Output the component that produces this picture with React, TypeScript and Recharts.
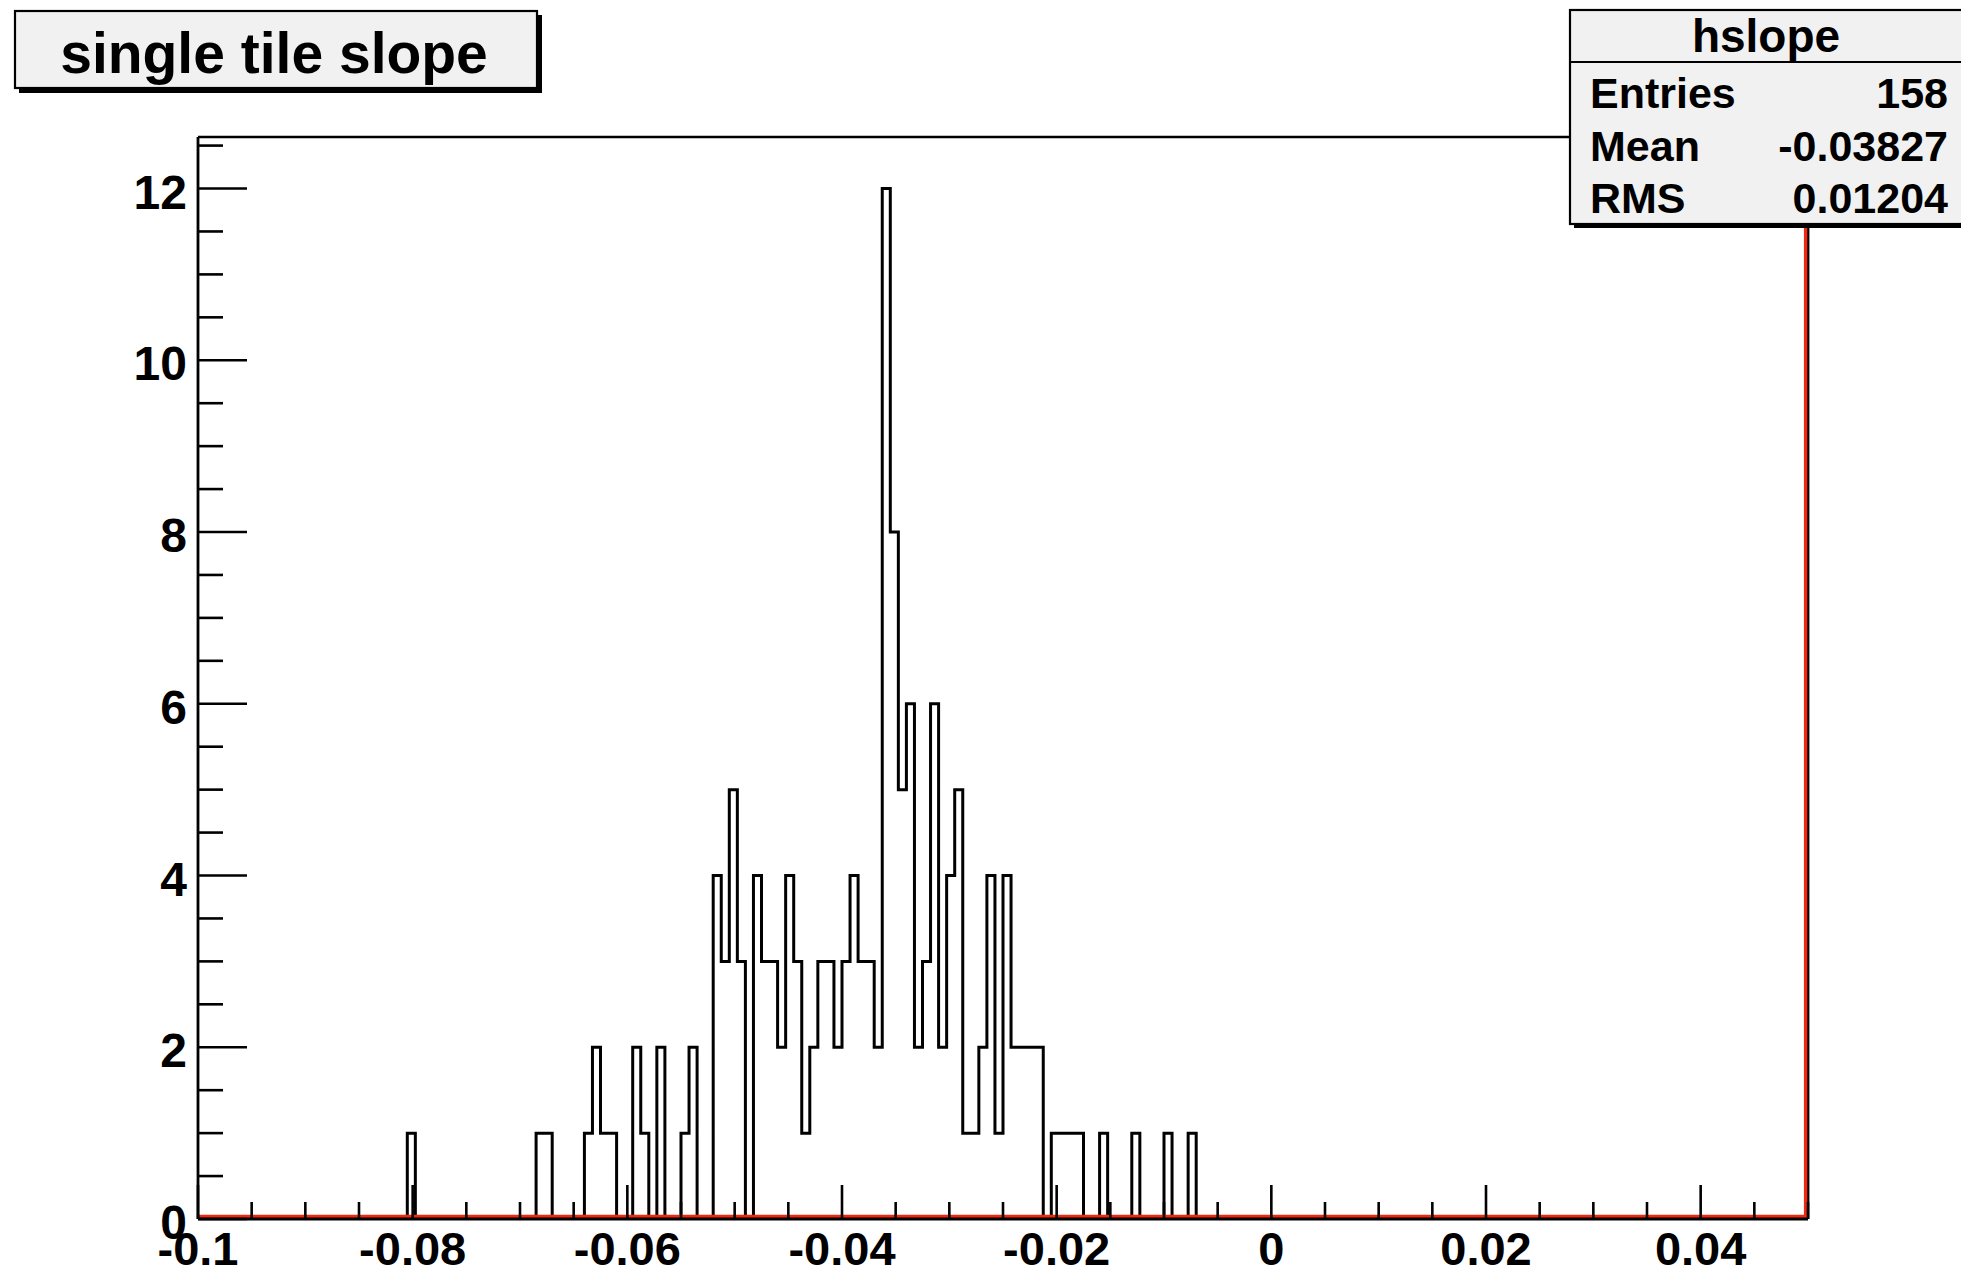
import { LineChart, Line, XAxis, YAxis, ReferenceLine } from 'recharts'

// hslope: 200 bins over [-0.1, 0.05]
const xLow = -0.1
const xHigh = 0.05
const nBins = 200
const yTop = 12.6

// filled bins (index counted from the low edge) and their entries
const binIndex = [
  26, 42, 43, 48, 49, 50, 51, 54, 55, 57, 60, 61, 64, 65, 66, 67,
  69, 70, 71, 72, 73, 74, 75, 76, 77, 78, 79, 80, 81, 82, 83, 84,
  85, 86, 87, 88, 89, 90, 91, 92, 93, 94, 95, 96, 97, 98, 99, 100,
  101, 102, 103, 104, 106, 107, 108, 109, 112, 116, 120, 123,
]
const binCount = [
  1, 1, 1, 1, 2, 1, 1, 2, 1, 2, 1, 2, 4, 3, 5, 3,
  4, 3, 3, 2, 4, 3, 1, 2, 3, 3, 2, 3, 4, 3, 3, 2,
  12, 8, 5, 6, 2, 3, 6, 2, 4, 5, 1, 1, 2, 4, 1, 4,
  2, 2, 2, 2, 1, 1, 1, 1, 1, 1, 1, 1,
]

const xLabels = [-0.1, -0.08, -0.06, -0.04, -0.02, 0, 0.02, 0.04]
const xLabelText = ['-0.1', '-0.08', '-0.06', '-0.04', '-0.02', '0', '0.02', '0.04']
const yLabels = [0, 2, 4, 6, 8, 10, 12]

const statTitle = 'hslope'
const statNames = ['Entries', 'Mean', 'RMS']
const statValues = ['158', '-0.03827', '0.01204']
const title = 'single tile slope'

const binWidth = (xHigh - xLow) / nBins
const counts: number[] = new Array(nBins).fill(0)
binIndex.forEach((b, i) => {
  counts[b] = binCount[i]
})
const histData = counts.map((n, i) => ({ x: xLow + i * binWidth, n }))
histData.push({ x: xHigh, n: 0 })

// minor ticks: every 0.005 on x, every 0.5 on y
const xTicks = Array.from({ length: 31 }, (_, k) => Math.round((xLow + k * 0.005) * 1000) / 1000)
const yTicks = Array.from({ length: 26 }, (_, k) => k * 0.5)

const FONT = '"Liberation Sans", Arial, Helvetica, sans-serif'
const RED = '#f0280f'

function XTick(props: any) {
  const { x, y, payload } = props
  const idx = xLabels.findIndex((l) => Math.abs(l - payload.value) < 1e-9)
  const len = idx >= 0 ? 34 : 17
  return (
    <g>
      <line x1={x} x2={x} y1={y} y2={y - len} stroke="#000" strokeWidth={2.6} />
      {idx >= 0 && (
        <text x={x} y={y + 46} textAnchor="middle" fontFamily={FONT} fontWeight="bold" fontSize={47} fill="#000">
          {xLabelText[idx]}
        </text>
      )}
    </g>
  )
}

function YTick(props: any) {
  const { x, y, payload } = props
  const major = yLabels.includes(payload.value)
  const len = major ? 49 : 25
  return (
    <g>
      <line x1={x} x2={x + len} y1={y} y2={y} stroke="#000" strokeWidth={2.6} />
      {major && (
        <text x={x - 11} y={y + 20} textAnchor="end" fontFamily={FONT} fontWeight="bold" fontSize={48} fill="#000">
          {payload.value}
        </text>
      )}
    </g>
  )
}

// red frame edge sits just inside the black axis line
function RedBottom(p: any) {
  return <line x1={p.x1} x2={p.x2} y1={p.y1 - 2.6} y2={p.y2 - 2.6} stroke={RED} strokeWidth={3.4} />
}
function RedRight(p: any) {
  return <line x1={p.x1 - 2.4} x2={p.x2 - 2.4} y1={p.y1} y2={p.y2 + 2.6} stroke={RED} strokeWidth={3.4} />
}

function Overlay() {
  return (
    <svg width={1961} height={1271} style={{ position: 'absolute', left: 0, top: 0, pointerEvents: 'none' }}>
      {/* title box */}
      <rect x={19} y={15} width={523} height={78} fill="#000" />
      <rect x={15} y={11} width={522} height={77} fill="#f1f1f1" stroke="#000" strokeWidth={2.2} />
      <text x={274} y={73} textAnchor="middle" fontFamily={FONT} fontWeight="bold" fontSize={57} fill="#000">
        {title}
      </text>

      {/* stats box */}
      <rect x={1574} y={13} width={400} height={215} fill="#000" />
      <rect x={1570} y={10} width={400} height={214} fill="#f1f1f1" stroke="#000" strokeWidth={2.2} />
      <line x1={1570} x2={1970} y1={62} y2={62} stroke="#000" strokeWidth={2.2} />
      <text x={1766} y={52} textAnchor="middle" fontFamily={FONT} fontWeight="bold" fontSize={46} fill="#000">
        {statTitle}
      </text>
      {statNames.map((name, i) => (
        <g key={name}>
          <text x={1590} y={108 + i * 52.5} fontFamily={FONT} fontWeight="bold" fontSize={43} fill="#000">
            {name}
          </text>
          <text x={1948} y={108 + i * 52.5} textAnchor="end" fontFamily={FONT} fontWeight="bold" fontSize={43} fill="#000">
            {statValues[i]}
          </text>
        </g>
      ))}
    </svg>
  )
}

export default function App() {
  return (
    <div style={{ position: 'absolute', left: 0, top: 0, width: 1961, height: 1271, overflow: 'hidden', background: '#fff' }}>
      <LineChart width={1961} height={1271} data={histData} margin={{ top: 137, right: 153, bottom: 0, left: 138 }}>
        <XAxis
          type="number"
          dataKey="x"
          domain={[xLow, xHigh]}
          allowDataOverflow
          ticks={xTicks}
          interval={0}
          height={52}
          tickSize={0}
          tickMargin={0}
          tickLine={false}
          axisLine={{ stroke: '#000', strokeWidth: 2.8 }}
          tick={(p: any) => <XTick {...p} />}
        />
        <YAxis
          type="number"
          domain={[0, yTop]}
          allowDataOverflow
          ticks={yTicks}
          interval={0}
          width={60}
          tickSize={0}
          tickMargin={0}
          tickLine={false}
          axisLine={{ stroke: '#000', strokeWidth: 2.8 }}
          tick={(p: any) => <YTick {...p} />}
        />
        <Line
          type="stepAfter"
          dataKey="n"
          stroke="#000"
          strokeWidth={3}
          strokeLinejoin="miter"
          dot={false}
          activeDot={false}
          isAnimationActive={false}
        />
        <ReferenceLine y={yTop} stroke="#000" strokeWidth={2.6} />
        <ReferenceLine x={xHigh} stroke="#000" strokeWidth={2.8} />
        <ReferenceLine x={xHigh} shape={RedRight} />
        <ReferenceLine y={0} shape={RedBottom} />
      </LineChart>
      <Overlay />
    </div>
  )
}
